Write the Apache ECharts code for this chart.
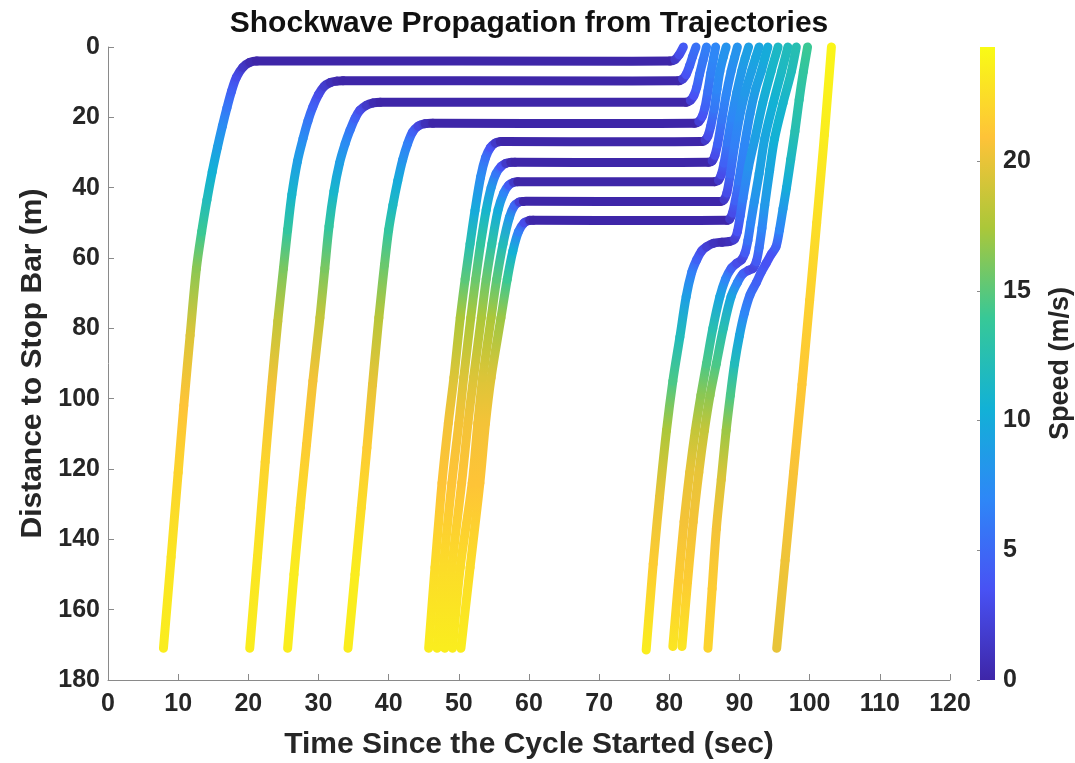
<!DOCTYPE html>
<html>
<head>
<meta charset="utf-8">
<script src="https://cdn.jsdelivr.net/npm/echarts@6/dist/echarts.min.js"></script>
<style>
  html, body { margin: 0; padding: 0; background: #ffffff; }
  #chart { width: 1075px; height: 763px; }
</style>
</head>
<body>
<div id="chart"></div>
<script>
// Axis ranges and tick labels
const timeRange = [0, 120];
const timeStep = 10;
const distanceRange = [0, 180];
const distanceStep = 20;
const speedTicks = [0, 5, 10, 15, 20];
const speedMax = 24.4;

// Vehicle trajectories: [time since cycle start (s), distance to stop bar (m), speed (m/s)]
const veh01 = [[7.9,171,23.5],[9.0,145,23],[10.0,121,22],[10.8,102,21],[11.7,82,19.5],[12.6,63,16.5],[13.35,52.5,14],[14.1,43.5,12],[14.85,35.5,10.5],[15.6,28.5,9],[16.3,22.5,7.5],[16.95,17.3,6],[17.6,12.6,4.5],[18.3,8.6,3],[19.2,5.8,1.4],[20.2,4.4,0.4],[21.2,4.0,0],[80.1,4.0,0],[80.8,3.6,1.5],[81.4,2.2,3],[82.0,0,4]];
const veh02 = [[20.2,171,23.5],[21.3,145,23],[22.4,118,22],[23.3,97,20.5],[24.2,78,18.5],[25.0,63,16],[25.6,52,13.5],[26.2,42,11],[27.0,32.5,9],[27.8,26,7.5],[28.5,21,6],[29.2,17,4.5],[30.0,13.5,3],[30.8,11.2,1.8],[31.7,10.1,0.8],[32.6,9.7,0.2],[33.5,9.6,0],[81.3,9.6,0],[81.9,9.1,2],[82.4,7.8,3.5],[82.9,5.3,4.5],[83.3,2.8,5],[83.8,0,5.5]];
const veh03 = [[25.6,171,23.5],[26.5,150,23.5],[27.4,131,22.5],[28.3,113,21.5],[29.2,95,20.5],[30.2,77,18.5],[30.9,63,16],[31.5,51,13.5],[32.2,41,11],[33.0,33,9],[33.8,27.5,7.5],[34.5,23.6,6],[35.2,20.3,4.5],[35.9,18,3],[36.8,16.6,1.5],[37.8,15.9,0.4],[38.8,15.7,0],[82.4,15.7,0],[83.0,15.2,2],[83.5,13.8,3.5],[83.9,11.5,4.5],[84.3,7.8,5.5],[84.8,3.8,6],[85.3,0,6.5]];
const veh04 = [[34.2,171,23.5],[35.2,150,23.5],[36.1,131,22.5],[36.9,114,21.5],[37.7,96,20],[38.6,77,18],[39.4,62,15.5],[40.0,52,13.5],[40.6,45,11.5],[41.3,38,10],[42.0,32,8],[42.7,27.5,6.5],[43.4,24.2,4.5],[44.2,22.5,2.5],[45.2,21.8,0.8],[46.3,21.7,0],[83.6,21.7,0],[84.2,21.2,2],[84.7,19.7,3.5],[85.1,17,4.5],[85.5,12.5,5.5],[85.9,7.5,6.5],[86.3,3.2,7],[86.6,0,7]];
const veh05 = [[45.7,171,23.5],[46.6,148,22.5],[47.6,124,21],[48.5,107,20.5],[49.3,94,19.5],[50.2,77,17.5],[50.9,66,15],[51.6,56,12.5],[52.3,46.5,10],[53.1,37,7.5],[53.8,31.5,5.5],[54.5,28.6,3.5],[55.2,27.3,1.5],[55.9,26.9,0.3],[56.5,26.9,0],[84.6,26.9,0],[85.1,26.5,1.5],[85.5,25.3,3],[85.9,22.5,4.5],[86.4,17.5,6],[86.8,12,7],[87.2,6.9,7.5],[87.7,2.8,8],[88.1,0,8]];
const veh06 = [[46.9,171,23.5],[47.8,148,22.5],[49.0,124,21],[50.0,107,20.5],[50.7,94,19.5],[51.7,77,17.5],[52.4,66,15.5],[53.1,56,13.5],[53.9,46.3,11],[54.6,40,8.5],[55.3,36,6],[56.0,34,3.5],[56.7,33.1,1.5],[57.4,32.8,0.3],[58.0,32.8,0],[85.6,32.8,0],[86.1,32.4,1.5],[86.5,30.8,3],[86.9,27.5,4.5],[87.5,20.5,6],[88.1,13.5,7],[88.8,6.9,7.5],[89.3,3,8],[89.7,0,8]];
const veh07 = [[48.0,171,23.5],[49.0,148,22.5],[50.4,124,21],[51.3,107,20.5],[52.1,94,19.5],[53.2,77,17.5],[53.9,66,15.5],[54.7,56,13],[55.6,46.3,10],[56.4,41.5,7],[57.1,39.3,4],[57.8,38.5,1.5],[58.4,38.3,0],[86.5,38.3,0],[87.0,37.9,1.5],[87.4,36.3,3],[87.8,33,4.5],[88.3,27,6],[88.9,20,7],[89.6,13,8],[90.3,6.9,8.5],[90.8,3.2,9],[91.3,0,9]];
const veh08 = [[49.1,171,23.5],[50.2,148,22.5],[51.9,124,21],[52.7,107,20.5],[53.4,94,19.5],[54.6,77,17.5],[55.4,66,15],[56.3,56,12],[57.2,48.5,8.5],[57.9,45.2,5],[58.6,44.1,2],[59.2,43.9,0],[87.3,43.9,0],[87.8,43.4,1.5],[88.2,41.5,3],[88.7,36,5],[89.3,28,6.5],[90.0,20,7.5],[90.8,13,8.5],[91.7,6.9,9],[92.3,3,9.5],[92.8,0,9.5]];
const veh09 = [[50.3,171,23.5],[51.6,148,22.5],[53.0,124,21],[53.8,107,20.5],[54.6,94,19.5],[56.0,77,17],[56.9,66,14],[57.7,58,10.5],[58.5,52.5,6.5],[59.3,50,3],[60.1,49.3,0.5],[60.6,49.3,0],[88.2,49.3,0],[88.6,48.9,1.5],[89.0,47.2,3],[89.4,43.7,4.5],[89.9,38,6],[90.7,28,7],[91.5,19,8],[92.3,12,9],[93.1,6.9,9.5],[93.6,3.2,10],[94.05,0,10]];
const veh10 = [[76.7,171.5,23.5],[77.7,147,21.5],[78.6,128,20],[79.6,109,17.5],[80.5,95,14.5],[81.5,82.5,12],[82.4,71,9],[83.2,64,6.5],[83.9,60.5,4.5],[84.6,58,3],[85.3,56.8,2],[86.3,55.8,1],[87.5,55.5,0.5],[88.6,55.3,0.8],[89.3,54.6,2],[89.7,52.5,3.5],[90.1,48,5],[90.5,43,6.5],[91.3,34,8],[92.2,26,9],[93.3,16,10],[94.5,6.9,11],[95.5,0,11.5]];
const veh11 = [[80.5,170.5,23],[81.3,152,21.5],[82.1,135,20.5],[82.9,121,20],[83.7,109,18.5],[84.5,99,16.5],[85.3,90,14.5],[86.2,80,12.5],[87.2,71,9.5],[88.0,66,7],[88.8,63,4.5],[89.6,61.5,3],[90.3,60.5,2.5],[90.8,58.5,4],[91.2,55,5.5],[91.6,50,7],[92.1,44,8],[92.8,36,9],[93.6,26,9.5],[94.8,16,10.5],[96.0,6.9,11.5],[96.9,0,12]];
const veh12 = [[81.8,170.5,23],[82.6,152,21.5],[83.4,135,20.5],[84.2,121,20],[85.0,109,18.5],[85.8,99,16.5],[86.7,90,14.5],[87.7,80,12.5],[88.8,71,9.5],[89.7,67,7],[90.5,64.5,4.5],[91.3,63.5,3],[91.9,63,2.5],[92.4,61,4],[92.8,57,5.5],[93.2,51.5,7],[93.6,45,8.5],[94.3,35,9.5],[95.0,26,10.5],[96.2,16,11],[97.4,6.9,12],[98.1,0,12.5]];
const veh13 = [[85.5,171,22],[86.1,154,21.5],[86.7,137,20.5],[87.4,123,19.5],[88.1,109,17],[88.7,99,14.5],[89.3,90,12],[90.0,82,9.5],[90.7,75.7,7],[91.5,70.5,5.5],[92.4,67,4.5],[93.1,64,4],[93.8,61.5,3.5],[94.5,59,3.5],[95.2,56.8,4.5],[95.7,52,7],[96.2,46,8.5],[96.7,40,10],[97.3,32,11.5],[97.9,24,12.5],[98.5,15,13],[99.1,7,13.5],[99.7,0,14]];
const veh14 = [[95.3,171,20],[96.5,146,20.3],[97.7,121,20.7],[98.9,96,21.2],[100.0,72,21.8],[101.0,50,22.6],[102.1,25,23.5],[103.1,0,24]];

const vehicles = [veh01, veh02, veh03, veh04, veh05, veh06, veh07, veh08, veh09, veh10, veh11, veh12, veh13, veh14];

// Parula colour scale
const parula = ['#3e26a8', '#4852f4', '#2e87f7', '#12b1d6', '#37c897', '#abc739', '#fec338', '#f9fb15'];

function hexToRgb(h) {
  return [parseInt(h.slice(1, 3), 16), parseInt(h.slice(3, 5), 16), parseInt(h.slice(5, 7), 16)];
}
const parulaRgb = parula.map(hexToRgb);

function speedColor(v) {
  const f = Math.max(0, Math.min(1, v / speedMax)) * (parulaRgb.length - 1);
  const i = Math.min(Math.floor(f), parulaRgb.length - 2);
  const t = f - i;
  const a = parulaRgb[i], b = parulaRgb[i + 1];
  const c = a.map((x, k) => Math.round(x + (b[k] - x) * t));
  return 'rgb(' + c[0] + ',' + c[1] + ',' + c[2] + ')';
}

// Each trajectory becomes a chain of segments carrying their neighbours,
// so each piece can be drawn as a smooth curve:
// [t0, d0, t1, d1, v1, t2, d2, v2, t3, d3]
const segments = [];
vehicles.forEach(function (tr) {
  for (let i = 0; i < tr.length - 1; i++) {
    const p0 = tr[Math.max(0, i - 1)], a = tr[i], b = tr[i + 1], p3 = tr[Math.min(tr.length - 1, i + 2)];
    segments.push([p0[0], p0[1], a[0], a[1], a[2], b[0], b[1], b[2], p3[0], p3[1]]);
  }
});

function unit(dx, dy) {
  const l = Math.hypot(dx, dy);
  return l > 1e-9 ? [dx / l, dy / l] : [0, 0];
}

const FONT = "'Liberation Sans', Arial, Helvetica, sans-serif";
const TEXT = '#262626';
const AXIS = '#8a8a8a';

const chart = echarts.init(document.getElementById('chart'), null, { renderer: 'canvas' });

chart.setOption({
  animation: false,
  backgroundColor: '#ffffff',
  title: {
    text: 'Shockwave Propagation from Trajectories',
    left: 529,
    top: 9,
    padding: 0,
    textAlign: 'center',
    textStyle: { fontFamily: FONT, fontSize: 30, fontWeight: 'bold', color: '#111111' }
  },
  grid: [
    { left: 108, right: 125, top: 47, bottom: 83, outerBoundsMode: 'none' },
    { left: 980, width: 15, top: 47, bottom: 83, outerBoundsMode: 'none' }
  ],
  xAxis: [
    {
      type: 'value', gridIndex: 0,
      min: timeRange[0], max: timeRange[1], interval: timeStep,
      name: 'Time Since the Cycle Started (sec)',
      nameLocation: 'middle', nameGap: 50,
      nameTextStyle: { fontFamily: FONT, fontSize: 30, fontWeight: 'bold', color: TEXT },
      axisLine: { show: true, onZero: false, lineStyle: { color: AXIS, width: 1 } },
      axisTick: { show: true, inside: true, length: 6, lineStyle: { color: AXIS } },
      axisLabel: { fontFamily: FONT, fontSize: 25, fontWeight: 'bold', color: TEXT, margin: 12 },
      splitLine: { show: false }
    },
    {
      type: 'value', gridIndex: 1, min: 0, max: 1, show: false
    }
  ],
  yAxis: [
    {
      type: 'value', gridIndex: 0, inverse: true,
      min: distanceRange[0], max: distanceRange[1], interval: distanceStep,
      name: 'Distance to Stop Bar (m)',
      nameLocation: 'middle', nameGap: 60, nameRotate: 90,
      nameTextStyle: { fontFamily: FONT, fontSize: 30, fontWeight: 'bold', color: TEXT },
      axisLine: { show: true, onZero: false, lineStyle: { color: AXIS, width: 1 } },
      axisTick: { show: true, inside: true, length: 6, lineStyle: { color: AXIS } },
      axisLabel: { fontFamily: FONT, fontSize: 25, fontWeight: 'bold', color: TEXT, margin: 8 },
      splitLine: { show: false }
    },
    {
      type: 'value', gridIndex: 1, position: 'right',
      min: 0, max: speedMax, interval: 5,
      name: 'Speed (m/s)',
      nameLocation: 'middle', nameGap: 52, nameRotate: 90,
      nameTextStyle: { fontFamily: FONT, fontSize: 27, fontWeight: 'bold', color: TEXT },
      axisLine: { show: false },
      axisTick: { show: true, inside: true, length: 3, lineStyle: { color: 'rgba(60,60,60,0.6)' } },
      axisLabel: {
        fontFamily: FONT, fontSize: 25, fontWeight: 'bold', color: TEXT, margin: 8,
        showMaxLabel: false,
        formatter: function (v) { return speedTicks.indexOf(v) >= 0 ? String(v) : ''; }
      },
      splitLine: { show: false }
    }
  ],
  series: [
    {
      type: 'custom',
      name: 'trajectories',
      xAxisIndex: 0, yAxisIndex: 0,
      data: segments,
      encode: { x: [2, 5], y: [3, 6] },
      renderItem: function (params, api) {
        const p0 = api.coord([api.value(0), api.value(1)]);
        const p1 = api.coord([api.value(2), api.value(3)]);
        const p2 = api.coord([api.value(5), api.value(6)]);
        const p3 = api.coord([api.value(8), api.value(9)]);
        const c1 = speedColor(api.value(4));
        const c2 = speedColor(api.value(7));
        const len = Math.hypot(p2[0] - p1[0], p2[1] - p1[1]);
        // tangents follow the neighbouring points, scaled to this piece's length
        const u1 = unit(p2[0] - p0[0], p2[1] - p0[1]);
        const u2 = unit(p3[0] - p1[0], p3[1] - p1[1]);
        const k = len / 3;
        let stroke = c1;
        if (c1 !== c2 && len > 0) {
          stroke = new echarts.graphic.LinearGradient(p1[0], p1[1], p2[0], p2[1],
            [{ offset: 0, color: c1 }, { offset: 1, color: c2 }], true);
        }
        return {
          type: 'bezierCurve',
          shape: {
            x1: p1[0], y1: p1[1], x2: p2[0], y2: p2[1],
            cpx1: p1[0] + u1[0] * k, cpy1: p1[1] + u1[1] * k,
            cpx2: p2[0] - u2[0] * k, cpy2: p2[1] - u2[1] * k
          },
          style: { stroke: stroke, lineWidth: 9, lineCap: 'round', fill: null }
        };
      }
    },
    {
      type: 'custom',
      name: 'colorbar',
      xAxisIndex: 1, yAxisIndex: 1,
      data: [[0, 0, 1, speedMax]],
      encode: { x: [0, 2], y: [1, 3] },
      renderItem: function (params, api) {
        const a = api.coord([api.value(0), api.value(1)]);
        const b = api.coord([api.value(2), api.value(3)]);
        return {
          type: 'rect',
          shape: { x: a[0], y: b[1], width: b[0] - a[0], height: a[1] - b[1] },
          style: {
            fill: new echarts.graphic.LinearGradient(0, 1, 0, 0,
              parula.map(function (c, i) { return { offset: i / (parula.length - 1), color: c }; }))
          }
        };
      }
    }
  ]
});
</script>
</body>
</html>
